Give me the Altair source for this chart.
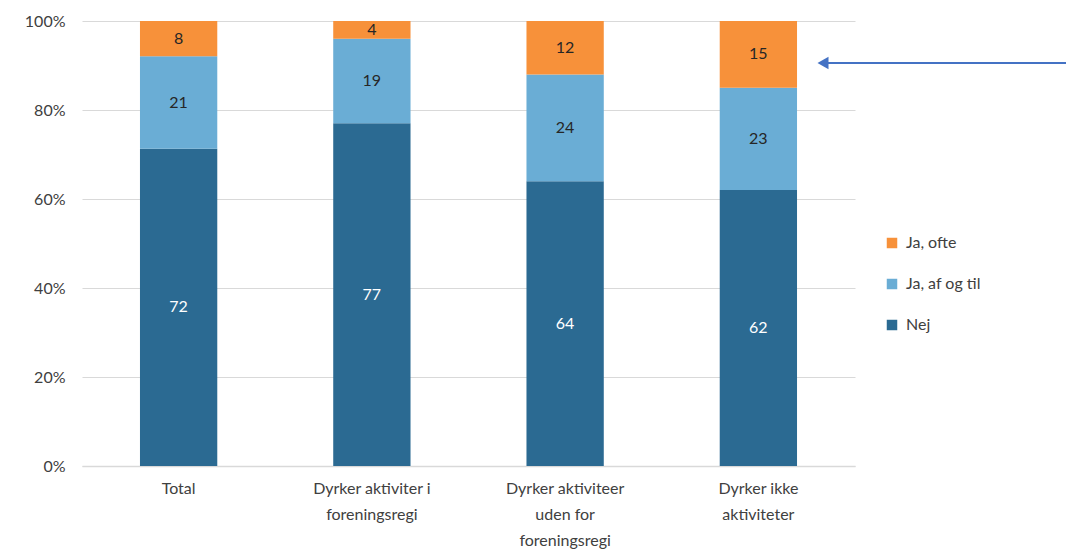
import altair as alt
import pandas as pd

categories = ["Total", "Dyrker aktiviter i foreningsregi", "Dyrker aktiviteer uden for foreningsregi", "Dyrker ikke aktiviteter"]
cat_labels = ["Total", "Dyrker aktiviter i|foreningsregi", "Dyrker aktiviteer|uden for|foreningsregi", "Dyrker ikke|aktiviteter"]
series = ["Nej", "Ja, af og til", "Ja, ofte"]
nej = [72, 77, 64, 62]
ja_af_og_til = [21, 19, 24, 23]
ja_ofte = [8, 4, 12, 15]
colors = {"Ja, ofte": "#F7913A", "Ja, af og til": "#6AADD5", "Nej": "#2B6A92"}
text_colors = {"Ja, ofte": "#262626", "Ja, af og til": "#262626", "Nej": "#FFFFFF"}

rows = []
for i, c in enumerate(categories):
    for j, (s, vals) in enumerate(zip(series, [nej, ja_af_og_til, ja_ofte])):
        rows.append({"cat": c, "label": cat_labels[i], "series": s, "value": vals[i], "order": j,
                     "tcol": text_colors[s]})
df = pd.DataFrame(rows)

FONT = "Lato"
W, H = 773, 445

base = (
    alt.Chart(df)
    .transform_joinaggregate(total="sum(value)", groupby=["cat"])
    .transform_calculate(pct="datum.value / datum.total")
    .transform_stack(stack="pct", as_=["y0", "y1"], groupby=["cat"], sort=[alt.SortField("order")])
    .transform_calculate(mid="(datum.y0 + datum.y1) / 2")
)

label_map = "{" + ",".join(f"'{c}':'{l}'" for c, l in zip(categories, cat_labels)) + "}"

x_enc = alt.X(
    "cat:N",
    sort=categories,
    title=None,
    scale=alt.Scale(paddingInner=0.6, paddingOuter=0.3),
    axis=alt.Axis(
        labelAngle=0,
        labelExpr=f"split({label_map}[datum.value], '|')",
        labelFontSize=16,
        labelFont=FONT,
        labelColor="#404040",
        labelPadding=14,
        labelLineHeight=26,
        ticks=False,
        domainColor="#D9D9D9",
        domainWidth=1.5,
        grid=False,
        labelBaseline="top",
    ),
)

bars = base.mark_bar(strokeWidth=0).encode(
    x=x_enc,
    y=alt.Y(
        "y0:Q",
        title=None,
        scale=alt.Scale(domain=[0, 1]),
        axis=alt.Axis(
            format="%",
            values=[0, 0.2, 0.4, 0.6, 0.8, 1.0],
            labelFontSize=16,
            labelFont=FONT,
            labelColor="#404040",
            labelPadding=17,
            ticks=False,
            domain=False,
            gridColor="#D9D9D9",
            gridWidth=1,
        ),
    ),
    y2="y1:Q",
    color=alt.Color(
        "series:N",
        scale=alt.Scale(domain=["Ja, ofte", "Ja, af og til", "Nej"],
                        range=[colors["Ja, ofte"], colors["Ja, af og til"], colors["Nej"]]),
        legend=alt.Legend(
            title=None,
            orient="none",
            legendX=802,
            legendY=214,
            symbolType="square",
            symbolSize=110,
            symbolStrokeWidth=0,
            labelFontSize=16,
            labelFont=FONT,
            labelColor="#404040",
            rowPadding=25,
            labelOffset=6,
        ),
    ),
)

texts = base.mark_text(fontSize=16, font=FONT, baseline="middle").encode(
    x=alt.X("cat:N", sort=categories),
    y=alt.Y("mid:Q"),
    text=alt.Text("value:Q"),
    color=alt.Color("tcol:N", scale=None),
)

arrow_line = alt.Chart(pd.DataFrame({"a": [0]})).mark_rule(color="#4472C4", strokeWidth=2).encode(
    x=alt.value(745), x2=alt.value(993), y=alt.value(42)
)
arrow_head = alt.Chart(pd.DataFrame({"a": [0]})).mark_point(
    shape="triangle-left", filled=True, color="#4472C4", size=160, opacity=1
).encode(x=alt.value(741), y=alt.value(42))

chart = (
    alt.layer(bars, texts, arrow_line, arrow_head)
    .properties(width=W, height=H, padding={"left": 74, "top": 13, "right": 211, "bottom": 84},
                autosize=alt.AutoSizeParams(type="none"), background="white")
    .configure_view(strokeWidth=0, stroke="transparent")
)

chart.save("out.html", embed_options={"renderer": "svg", "actions": False})
